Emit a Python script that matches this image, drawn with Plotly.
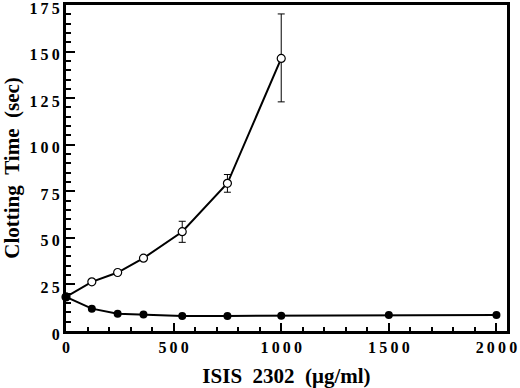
import plotly.graph_objects as go

# Data
open_x = [0, 120, 240, 360, 540, 750, 1000]
open_y = [18.3, 26.4, 31.4, 39.1, 53.3, 79.3, 146.3]
open_err_plus = [0, 0, 0, 0, 5.6, 4.7, 23.9]
open_err_minus = [0, 0, 0, 0, 5.7, 4.8, 23.3]

filled_x = [0, 120, 240, 360, 540, 750, 1000, 1500, 2000]
filled_y = [18.3, 12.0, 9.3, 8.8, 8.1, 8.1, 8.2, 8.6, 8.6]

x_tickvals = [0, 500, 1000, 1500, 2000]
y_tickvals = [0, 25, 50, 75, 100, 125, 150, 175]

TS = "\u2009"
x_ticktext = [TS.join(str(v)) for v in x_tickvals]
y_ticktext = [TS.join(str(v)) for v in y_tickvals]

FONT = "Liberation Serif"

fig = go.Figure()
fig.add_trace(go.Scatter(
    x=open_x, y=open_y, mode="lines+markers",
    line=dict(color="black", width=2),
    marker=dict(symbol="circle", size=8, color="white",
                line=dict(color="black", width=1.2)),
    error_y=dict(type="data", symmetric=False, array=open_err_plus,
                 arrayminus=open_err_minus, color="black", thickness=1, width=3.5),
    cliponaxis=False, showlegend=False,
))
fig.add_trace(go.Scatter(
    x=filled_x, y=filled_y, mode="lines+markers",
    line=dict(color="black", width=2),
    marker=dict(symbol="circle", size=8, color="black"),
    cliponaxis=False, showlegend=False,
))

fig.update_layout(
    width=520, height=388,
    margin=dict(l=66, r=13, t=5, b=57),
    plot_bgcolor="white", paper_bgcolor="white",
    font=dict(family=FONT, color="black"),
)
fig.update_xaxes(
    range=[0, 2049], showgrid=False, zeroline=False, automargin=False,
    showline=True, linecolor="black", linewidth=3, mirror=True,
    ticks="inside", ticklen=8, tickwidth=2, tickcolor="black",
    tickvals=x_tickvals, ticktext=x_ticktext, ticklabeloverflow="allow",
    tickfont=dict(family=FONT, size=16, weight="bold"),
    minor=dict(dtick=100, ticks="inside", ticklen=4, tickwidth=1.5, tickcolor="black"),
    title=dict(text="ISIS\u00a0\u00a02302\u00a0\u00a0(\u03bcg/ml)",
               font=dict(family=FONT, size=21, weight="bold"), standoff=14),
)
fig.update_yaxes(
    range=[0, 175], showgrid=False, zeroline=False, automargin=False,
    showline=True, linecolor="black", linewidth=3, mirror=True,
    ticks="inside", ticklen=9, tickwidth=2, tickcolor="black",
    tickvals=y_tickvals, ticktext=y_ticktext, ticklabeloverflow="allow",
    ticklabelshift=3,
    tickfont=dict(family=FONT, size=16, weight="bold"),
    minor=dict(dtick=5, ticks="inside", ticklen=5, tickwidth=1.5, tickcolor="black"),
    title=dict(text="Clotting\u00a0\u00a0Time\u00a0\u00a0(sec)",
               font=dict(family=FONT, size=21, weight="bold"), standoff=10),
)

fig.write_html("out.html", config={"displayModeBar": False},
               post_script="document.body.style.margin='0px';")
